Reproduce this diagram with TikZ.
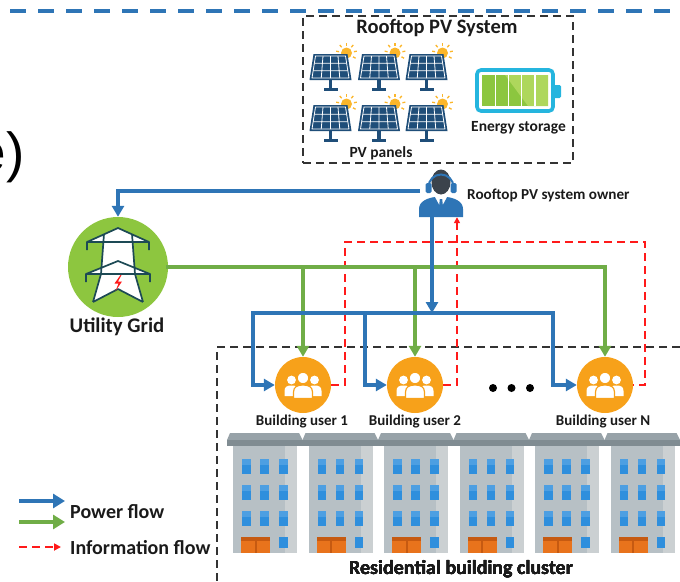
\documentclass[tikz,border=0pt]{standalone}
\usepackage{fontspec}
\setmainfont{Carlito}
\newfontfamily\arialfont{Liberation Sans}
\usetikzlibrary{arrows.meta,calc}

\definecolor{pblue}{HTML}{2E75B6}
\definecolor{pgreen}{HTML}{70AD47}
\definecolor{gridgreen}{HTML}{8DC63F}
\definecolor{infored}{HTML}{FF1A1A}
\definecolor{navy}{HTML}{1F4E79}
\definecolor{sunyellow}{HTML}{FBB62B}
\definecolor{battcyan}{HTML}{25B5DE}
\definecolor{cellgreen}{HTML}{8CC63F}
\definecolor{celllight}{HTML}{AED75C}
\definecolor{userorange}{HTML}{F7A11A}
\definecolor{headgray}{HTML}{3B434C}
\definecolor{roofgray}{HTML}{97A2A8}
\definecolor{roofband}{HTML}{808C92}
\definecolor{wallgray}{HTML}{B7C0C5}
\definecolor{winblue}{HTML}{2F8FDD}
\definecolor{doororange}{HTML}{E8731C}
\definecolor{doordark}{HTML}{C65A11}
\definecolor{towerline}{HTML}{1D4A55}
\definecolor{textblack}{HTML}{1A1A1A}

\tikzset{
  lbl/.style={font=\bfseries, text=textblack, inner sep=0pt},
  power/.style={line width=4pt, draw=pblue, line cap=rect},
  supply/.style={line width=4pt, draw=pgreen, line cap=rect},
  info/.style={line width=2pt, draw=infored, dash pattern=on 8pt off 5pt},
  bigtip/.style={-{Triangle[length=11pt,width=12pt]}},
  smalltip/.style={-{Triangle[length=6pt,width=6pt]}},
  groupbox/.style={line width=1.8pt, draw=black!80, dash pattern=on 8pt off 5pt},
  usernode/.style={circle, fill=userorange, minimum size=56pt, inner sep=0pt},
}

% solar panel with a sun behind its upper right corner
\newcommand\pvpanel[2]{%
  \begin{scope}[shift={(#1,#2)}]
    \fill[sunyellow] (16,-14) circle (5.5);
    \foreach \a in {-170,-130,-90,-50,-10,30}
      \draw[sunyellow, line width=1.3pt] (16,-14) ++(\a:7.5) -- ++(\a:3);
    \fill[navy] (-17,-13) -- (17,-13) -- (21,13) -- (-21,13) -- cycle;
    \draw[white, line width=0.8pt] (-15,-11) -- (15,-11) -- (18.5,11) -- (-18.5,11) -- cycle;
    \draw[white, line width=0.8pt]
      (-7.5,-11) -- (-9.25,11) (0,-11) -- (0,11) (7.5,-11) -- (9.25,11)
      (-16.17,-3.67) -- (16.17,-3.67) (-17.33,3.67) -- (17.33,3.67);
    \fill[navy] (-1.6,13) rectangle (1.6,21);
    \fill[navy] (-7,21) rectangle (7,23.5);
  \end{scope}}

% group of three people, white on the orange disc
\newcommand\people[2]{%
  \begin{scope}[shift={(#1,#2)}]
    \foreach \s in {-11.5,11.5}{
      \fill[white] (\s,-5) circle (4.4);
      \fill[white] (\s-7,11) -- (\s-7,6) .. controls (\s-7,1.5) and (\s-4,0.5) .. (\s,0.5)
        .. controls (\s+4,0.5) and (\s+7,1.5) .. (\s+7,6) -- (\s+7,11) -- cycle;
    }
    \filldraw[white, draw=userorange, line width=1.2pt] (0,-7) circle (5.8);
    \filldraw[white, draw=userorange, line width=1.2pt] (-9.5,13.5) -- (-9.5,7)
      .. controls (-9.5,1.5) and (-5,0) .. (0,0) .. controls (5,0) and (9.5,1.5) .. (9.5,7)
      -- (9.5,13.5) -- cycle;
  \end{scope}}

% apartment block; #1 is the left end of its roof
\newcommand\block[1]{%
  \begin{scope}[shift={(#1,433)}]
    \fill[roofgray] (3,0) -- (72,0) -- (75.5,7) -- (0,7) -- cycle;
    \fill[roofband] (0,7) rectangle (75.5,13);
    \fill[wallgray] (6,13) rectangle (70,120);
    \fill[black!12, opacity=0.5] (58,13) rectangle (70,120);
    \foreach \wx in {15,33,52}
      \foreach \wy in {26,52,78}{
        \fill[winblue] (\wx,\wy) rectangle ++(8.5,15);
        \fill[white, opacity=0.15] (\wx,\wy) rectangle ++(8.5,6);
      }
    \fill[doororange] (14,104) rectangle (43,120);
    \fill[doordark] (14,104) rectangle (43,107.5);
    \fill[doordark] (27.5,107.5) rectangle (29.5,120);
    \fill[winblue] (52,104) rectangle (60.5,115);
  \end{scope}}

\begin{document}
\begin{tikzpicture}[x=1pt,y=-1pt]
\useasboundingbox (0,0) rectangle (680,581);

% top rule
\draw[pblue, line width=4pt, dash pattern=on 16pt off 12pt] (10,11) -- (680,11);

% partly cut label at the left
\node (cut) [font=\arialfont\fontsize{55}{55}\selectfont, anchor=east, inner sep=0pt, text=black] at (25,157) {e)};

% ---------------- rooftop PV system ----------------
\node (pvbox) [groupbox, minimum width=270pt, minimum height=147pt, inner sep=0pt] at (438,89.5) {};
\node (pvtitle) [lbl, font=\bfseries\fontsize{20.5}{20.5}\selectfont] at (437,28) {Rooftop PV System};
\foreach \px in {330.5,379,426.5}
  \foreach \py in {67,118}
    \pvpanel{\px}{\py};
\node (pvlbl) [lbl, font=\bfseries\fontsize{15.5}{15.5}\selectfont] at (381,153) {PV panels};

% battery
\fill[battcyan, rounded corners=1.5pt] (553,85) rectangle (561,98);
\draw[battcyan, line width=3.6pt, rounded corners=4pt] (477,70) rectangle (553,111);
\begin{scope}
  \clip (482,75) rectangle (548,106);
  \fill[cellgreen] (482,75) rectangle (548,106);
  \fill[celllight] (505,75) -- (548,75) -- (548,106) -- (528,106) -- cycle;
\end{scope}
\foreach \cx in {495.2,508.4,521.6,534.8}
  \fill[white] (\cx-0.7,75) rectangle (\cx+0.7,106);
\node (batlbl) [lbl, font=\bfseries\fontsize{15.5}{15.5}\selectfont] at (518.5,128) {Energy storage};

% ---------------- system owner ----------------
\node (owner) [minimum width=48pt, minimum height=52pt, inner sep=0pt] at (442,191) {};
\fill[pblue] (419,217) -- (419,209) .. controls (419,201) and (428,198) .. (435,197)
  -- (447,197) .. controls (454,198) and (463,201) .. (463,209) -- (463,217) -- cycle;
\fill[white] (435,197) -- (447,197) -- (441,208) -- cycle;
\fill[pblue] (439.8,199) -- (442.2,199) -- (443.2,209) -- (441,212) -- (438.8,209) -- cycle;
\fill[headgray] (441,182) ellipse [x radius=9.5, y radius=12.5];
\draw[pblue, line width=2pt] (428.5,187) arc[start angle=180, end angle=360, radius=12.5];
\fill[pblue, rounded corners=1.5pt] (425.5,183) rectangle (431.5,193);
\fill[pblue, rounded corners=1.5pt] (450.5,183) rectangle (456.5,193);
\node (ownerlbl) [lbl, anchor=west, font=\bfseries\fontsize{15.2}{15.2}\selectfont] at (467,195) {Rooftop PV system owner};

% ---------------- utility grid ----------------
\node (grid) [circle, fill=gridgreen, minimum size=100pt, inner sep=0pt] at (118,267) {};
\begin{scope}[shift={(118,267)}]
  \fill[white] (0,-39) -- (31,-25) -- (-31,-25) -- cycle;
  \fill[white] (-14,-33) -- (14,-33) -- (17,7) -- (25,35) -- (0,22) -- (-25,35) -- (-17,7) -- cycle;
  \fill[white] (0,-6) -- (32,7) -- (-32,7) -- cycle;
  \draw[towerline, line width=1.7pt, line join=round]
    (-31,-17) -- (-31,-25) -- (0,-39) -- (31,-25) -- (31,-17)
    (-31,-25) -- (31,-25)
    (-32,15) -- (-32,7) -- (0,-6) -- (32,7) -- (32,15)
    (-32,7) -- (32,7)
    (-14,-33) -- (-17,7) -- (-25,35)
    (14,-33) -- (17,7) -- (25,35)
    (-25,35) -- (0,22) -- (25,35);
  \fill[white] (-9,9) rectangle (9,20);
  \fill[infored] (2.5,8) -- (-3.5,16.5) -- (0.5,16.5) -- (-2.5,24) -- (4,14.5) -- (0,14.5) -- (3.5,8) -- cycle;
\end{scope}
\node (gridlbl) [lbl, font=\bfseries\fontsize{20.8}{20.8}\selectfont] at (117,327) {Utility Grid};

% ---------------- building users ----------------
\draw[groupbox] (680,347) -| (217,581);

\node (u1) [usernode] at (303,385) {};
\node (u2) [usernode] at (415,385) {};
\node (uN) [usernode] at (605,385) {};
\people{303}{385}
\people{415}{385}
\people{605}{385}
\foreach \dx in {493,511.5,530}
  \fill[black] (\dx,388) circle (4);

\node (u1lbl) [lbl, font=\bfseries\fontsize{15}{15}\selectfont] at (302,422) {Building user 1};
\node (u2lbl) [lbl, font=\bfseries\fontsize{15}{15}\selectfont] at (415,422) {Building user 2};
\node (uNlbl) [lbl, font=\bfseries\fontsize{15}{15}\selectfont] at (603,422) {Building user N};

\foreach \bx in {227,302.5,378,453.5,529,604.5}
  \block{\bx}
\node (clusterlbl) [lbl, font=\bfseries\fontsize{20}{20}\selectfont] at (461,569) {Residential building cluster};

% ---------------- flows ----------------
\coordinate (busL) at (253,313);
\coordinate (busM) at (365,313);
\coordinate (busR) at (553,313);
\coordinate (infoL) at (345,242);
\coordinate (infoR) at (645,242);

% information flow
\draw[info] (u1.east) -| (infoL) -- (infoR) |- (uN.east);
\draw[info, smalltip] (u2.east) -| ([xshift=15pt]owner.south);

% green supply from the grid
\draw[supply, bigtip] (grid.east) -| (uN.north);
\draw[supply, bigtip] (u1.north |- grid.east) -- (u1.north);
\draw[supply, bigtip] (u2.north |- grid.east) -- (u2.north);

% blue supply from the owner
\draw[power, bigtip] (owner.west) -| (grid.north);
\draw[power, bigtip] ([xshift=-10pt]owner.south) -- ([xshift=-10pt]owner.south |- busL);
\draw[power, bigtip] (busL) -- (busR) |- (uN.west);
\draw[power, bigtip] (busL) |- (u1.west);
\draw[power, bigtip] (busM) |- (u2.west);

% ---------------- legend ----------------
\coordinate (lgA) at (19,501);
\coordinate (lgB) at (19,522);
\coordinate (lgC) at (19,547);
\draw[line width=4.5pt, pblue, -{Triangle[length=12pt,width=14pt]}] (lgA) -- ++(46,0);
\draw[line width=4.5pt, pgreen, -{Triangle[length=12pt,width=14pt]}] (lgB) -- ++(46,0);
\draw[info, -{Triangle[length=7pt,width=7pt]}] (lgC) -- ++(42,0);
\node (lgpower) [lbl, anchor=west, font=\bfseries\fontsize{20}{20}\selectfont] at (70,512) {Power flow};
\node (lginfo) [lbl, anchor=west, font=\bfseries\fontsize{20}{20}\selectfont] at (70,548) {Information flow};
\end{tikzpicture}
\end{document}
